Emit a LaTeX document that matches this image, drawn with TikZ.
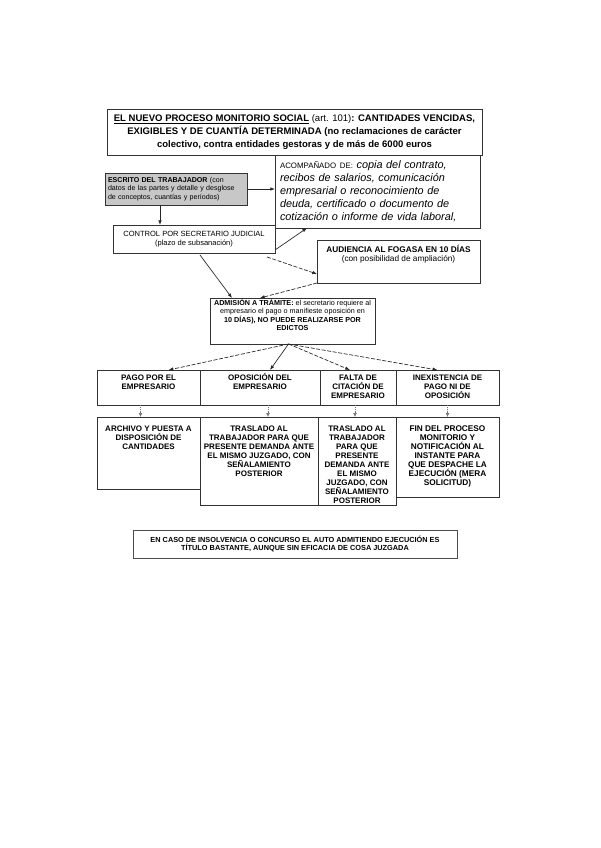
\documentclass[tikz,border=0pt]{standalone}
\usepackage{fontspec}
\setmainfont{Liberation Sans}
\usetikzlibrary{arrows.meta,calc}
\newcommand{\tb}[4]{\parbox[c][#2][t]{#1}{\centering\rule{0pt}{#3}#4\par}}
\newcommand{\fs}[2]{\fontsize{#1}{#2}\selectfont}
\begin{document}
\begin{tikzpicture}[x=0.75pt,y=-0.75pt]
\tikzset{
 bx/.style={draw=black!80, line width=0.6pt, inner sep=0pt, outer sep=0pt},
 arr/.style={draw=black!85, line width=0.5pt, -{Latex[length=3.5pt,width=2.6pt]}},
 darr/.style={arr, dash pattern=on 3pt off 1.2pt},
 sarr/.style={draw=black!55, line width=0.4pt, densely dotted, -{Latex[length=3pt,width=2.8pt]}}
}
\useasboundingbox (0,0) rectangle (600,848);
\fill[white] (0,0) rectangle (600,848);

% title
\node[bx, minimum width=281.25pt, minimum height=34.5pt, align=center, font=\fs{7.15}{9.75}\bfseries]
 (title) at (294.5,132)
 {\underline{EL NUEVO PROCESO MONITORIO SOCIAL} \textmd{(art. 101)}: CANTIDADES VENCIDAS,\\
  EXIGIBLES Y DE CUANTÍA DETERMINADA (no reclamaciones de carácter\\
  colectivo, contra entidades gestoras y de más de 6000 euros};

% acompañado
\node[bx, text width=146.25pt, inner xsep=3.75pt, minimum height=54.75pt, align=left, font=\fs{8.15}{9.75}\itshape]
 (acomp) at (377.5,191.5)
 {{\upshape\fs{5.9}{9.75}ACOMPAÑADO DE:} copia del contrato,\\
  recibos de salarios, comunicación\\
  empresarial o reconocimiento de\\
  deuda, certificado o documento de\\
  cotización o informe de vida laboral,};

% escrito
\node[bx, fill=black!22, text width=102pt, inner xsep=2.25pt, inner ysep=1pt, minimum height=24pt, align=left, font=\fs{5.3}{6.6}]
 (escr) at (176,189)
 {\textbf{ESCRITO DEL TRABAJADOR} (con\\
  datos de las partes y detalle y desglose\\
  de conceptos, cuantías y períodos)};

% control
\node[bx, minimum width=121.5pt, minimum height=21pt, align=center, font=\fs{5.65}{6.75}]
 (ctrl) at (194,239)
 {CONTROL POR SECRETARIO JUDICIAL\\(plazo de subsanación)};

% audiencia
\node[bx, font=\fs{6.2}{6.75}] (aud) at (398.5,261.5)
 {\tb{122.25pt}{32.25pt}{9.75pt}{\textbf{AUDIENCIA AL FOGASA EN 10 DÍAS}\\(con posibilidad de ampliación)}};

% admision
\node[bx, font=\fs{5.4}{6.4}] (adm) at (292.5,321)
 {\tb{123.75pt}{34.5pt}{5.3pt}{\textbf{ADMISIÓN A TRÁMITE:} el secretario requiere al\\
  empresario el pago o manifieste oposición en\\
  \textbf{10 DÍAS), NO PUEDE REALIZARSE POR}\\
  \textbf{EDICTOS}}};

% row 1
\begin{scope}[every node/.append style={bx, font=\fs{6}{6.75}\bfseries}]
\node (pago) at (148.5,387.5) {\tb{77.25pt}{26.25pt}{7.5pt}{PAGO POR EL\\EMPRESARIO}};
\node (opos) at (260,387.5) {\tb{90pt}{26.25pt}{7.5pt}{OPOSICIÓN DEL\\EMPRESARIO}};
\node (falta) at (358,387.5) {\tb{57pt}{26.25pt}{7.5pt}{FALTA DE\\CITACIÓN DE\\EMPRESARIO}};
\node (inex) at (447.5,387.5) {\tb{77.25pt}{26.25pt}{7.5pt}{INEXISTENCIA DE\\PAGO NI DE\\OPOSICIÓN}};
% row 2
\node (arch) at (148.5,453) {\tb{77.25pt}{54pt}{10.5pt}{ARCHIVO Y PUESTA A\\DISPOSICIÓN DE\\CANTIDADES}};
\node (tras1) at (259,461) {\tb{88.5pt}{66pt}{10.5pt}{TRASLADO AL\\TRABAJADOR PARA QUE\\PRESENTE DEMANDA ANTE\\EL MISMO JUZGADO, CON\\SEÑALAMIENTO\\POSTERIOR}};
\node (tras2) at (357,461) {\tb{58.5pt}{66pt}{10.5pt}{TRASLADO AL\\TRABAJADOR\\PARA QUE\\PRESENTE\\DEMANDA ANTE\\EL MISMO\\JUZGADO, CON\\SEÑALAMIENTO\\POSTERIOR}};
\node[font=\fs{6.2}{6.75}\bfseries] (fin) at (447.5,457) {\tb{77.25pt}{60pt}{10.5pt}{FIN DEL PROCESO\\MONITORIO Y\\NOTIFICACIÓN AL\\INSTANTE PARA\\QUE DESPACHE LA\\EJECUCIÓN (MERA\\SOLICITUD)}};
\end{scope}

% note
\node[bx, draw=black!70, minimum width=243pt, minimum height=21pt, align=center, font=\fs{5.5}{6}\bfseries]
 (note) at (295,544)
 {EN CASO DE INSOLVENCIA O CONCURSO EL AUTO ADMITIENDO EJECUCIÓN ES\\
  TÍTULO BASTANTE, AUNQUE SIN EFICACIA DE COSA JUZGADA};

% connectors
\draw[arr] (escr.east) -- (escr.east -| acomp.west);
\draw[arr] ($(escr.south west)+(55,0)$) -- ($(ctrl.north west)+(47,0)$);
\draw[arr] ($(ctrl.south east)+(0,-3)$) -- ($(acomp.south west)+(32,0)$);
\draw[darr] ($(ctrl.south east)+(-8,4)$) -- ($(aud.south west)+(0,-9)$);
\draw[arr] ($(ctrl.south)+(6,2)$) -- ($(adm.north west)+(22,0)$);
\draw[darr] (aud.south west) -- ($(adm.north west)+(50,0)$);

\draw[darr] ($(adm.south)+(-4,0)$) -- ($(pago.north)+(20,0)$);
\draw[arr] ($(adm.south)+(-4,0)$) -- ($(opos.north)+(10,0)$);
\draw[darr] ($(adm.south)+(-4,0)$) -- ($(falta.north)+(-8,0)$);
\draw[darr] ($(adm.south)+(-4,0)$) -- ($(inex.north)+(-10,0)$);

\draw[sarr] ($(pago.south)+(-8,0)$) -- ($(arch.north)+(-8,0)$);
\draw[sarr] ($(opos.south)+(8,0)$) -- ($(tras1.north)+(9,0)$);
\draw[sarr] ($(falta.south)+(-3,0)$) -- ($(tras2.north)+(-2,0)$);
\draw[sarr] (inex.south) -- (fin.north);
\end{tikzpicture}
\end{document}
